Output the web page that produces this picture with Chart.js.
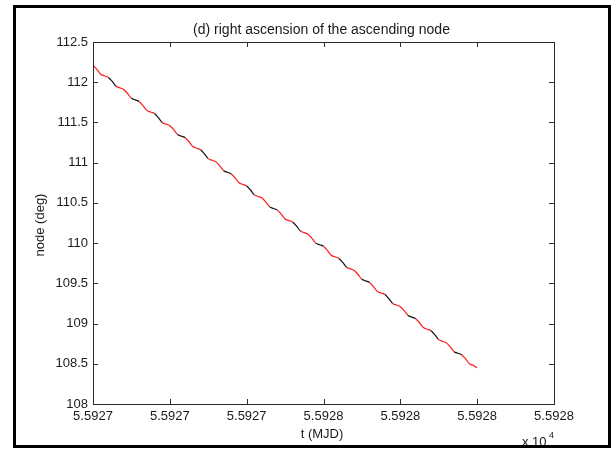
<!DOCTYPE html>
<html>
<head>
<meta charset="utf-8">
<script src="https://cdn.jsdelivr.net/npm/chart.js@4.4.0/dist/chart.umd.min.js"></script>
<style>
  html, body { margin: 0; padding: 0; background: #ffffff; }
  #wrap { position: relative; width: 616px; height: 450px; }
  canvas { display: block; }
</style>
</head>
<body>
<div id="wrap"><canvas id="c" width="616" height="450"></canvas></div>
<script>
// ---- data ----
const baseMJD = 55927;
const tDays = [
  0.00, 0.01, 0.02, 0.03, 0.04, 0.05, 0.06, 0.07, 0.08, 0.09,
  0.10, 0.11, 0.12, 0.13, 0.14, 0.15, 0.16, 0.17, 0.18, 0.19,
  0.20, 0.21, 0.22, 0.23, 0.24, 0.25, 0.26, 0.27, 0.28, 0.29,
  0.30, 0.31, 0.32, 0.33, 0.34, 0.35, 0.36, 0.37, 0.38, 0.39,
  0.40, 0.41, 0.42, 0.43, 0.44, 0.45, 0.46, 0.47, 0.48, 0.49,
  0.50, 0.51, 0.52, 0.53, 0.54, 0.55, 0.56, 0.57, 0.58, 0.59,
  0.60, 0.61, 0.62, 0.63, 0.64, 0.65, 0.66, 0.67, 0.68, 0.69,
  0.70, 0.71, 0.72, 0.73, 0.74, 0.75, 0.76, 0.77, 0.78, 0.79,
  0.80, 0.81, 0.82, 0.83, 0.84, 0.85, 0.86, 0.87, 0.88, 0.89,
  0.90, 0.91, 0.92, 0.93, 0.94, 0.95, 0.96, 0.97, 0.98, 0.99,
  1.00
];
const nodeDeg = [
  112.21, 112.16, 112.10, 112.08,
  112.06, 112.01, 111.95, 111.93,
  111.91, 111.86, 111.80, 111.78,
  111.76, 111.71, 111.65, 111.63,
  111.61, 111.56, 111.50, 111.48,
  111.46, 111.41, 111.35, 111.33,
  111.31, 111.26, 111.20, 111.18,
  111.16, 111.11, 111.05, 111.03,
  111.01, 110.96, 110.90, 110.88,
  110.86, 110.81, 110.75, 110.73,
  110.71, 110.66, 110.60, 110.58,
  110.56, 110.51, 110.45, 110.43,
  110.41, 110.36, 110.30, 110.28,
  110.26, 110.21, 110.15, 110.13,
  110.11, 110.06, 110.00, 109.98,
  109.96, 109.91, 109.85, 109.83,
  109.81, 109.76, 109.70, 109.68,
  109.66, 109.61, 109.55, 109.53,
  109.51, 109.46, 109.40, 109.38,
  109.36, 109.31, 109.25, 109.23,
  109.21, 109.16, 109.10, 109.08,
  109.06, 109.01, 108.95, 108.93,
  108.91, 108.86, 108.80, 108.78,
  108.76, 108.71, 108.65, 108.63,
  108.61, 108.56, 108.50, 108.48,
  108.45
];
const xTickValues = [55927.0, 55927.2, 55927.4, 55927.6, 55927.8, 55928.0, 55928.2];
const xTickLabels = ['5.5927', '5.5927', '5.5927', '5.5928', '5.5928', '5.5928', '5.5928'];
const yTickValues = [108, 108.5, 109, 109.5, 110, 110.5, 111, 111.5, 112, 112.5];
const yTickLabels = ['108', '108.5', '109', '109.5', '110', '110.5', '111', '111.5', '112', '112.5'];
const titleText = '(d) right ascension of the ascending node';
const xAxisTitle = 't (MJD)';
const yAxisTitle = 'node (deg)';

const points = tDays.map((t, i) => ({ x: baseMJD + t, y: nodeDeg[i] }));

const FONT = "'Liberation Sans', Arial, Helvetica, sans-serif";
const TEXT = '#1a1a1a';
const AXIS = '#2a2a2a';
const RED = '#ff1a1a';
const BLACK = '#111111';

const decorPlugin = {
  id: 'decor',
  afterDraw(chart) {
    const { ctx, chartArea } = chart;
    const { left, right, top, bottom } = chartArea;
    const xs = chart.scales.x, ys = chart.scales.y;
    ctx.save();
    // plot box
    ctx.strokeStyle = AXIS;
    ctx.lineWidth = 1;
    ctx.strokeRect(Math.round(left) + 0.5, Math.round(top) + 0.5,
                   Math.round(right - left), Math.round(bottom - top));
    // inner ticks (MATLAB style, mirrored)
    const tl = 5;
    ctx.beginPath();
    xTickValues.forEach(v => {
      const px = Math.round(xs.getPixelForValue(v)) + 0.5;
      ctx.moveTo(px, bottom); ctx.lineTo(px, bottom - tl);
      ctx.moveTo(px, top); ctx.lineTo(px, top + tl);
    });
    yTickValues.forEach(v => {
      const py = Math.round(ys.getPixelForValue(v)) + 0.5;
      ctx.moveTo(left, py); ctx.lineTo(left + tl, py);
      ctx.moveTo(right, py); ctx.lineTo(right - tl, py);
    });
    ctx.stroke();

    ctx.fillStyle = TEXT;
    ctx.textAlign = 'center';
    ctx.textBaseline = 'alphabetic';
    // title
    ctx.font = '14px ' + FONT;
    ctx.fillText(titleText, 321.5, 34);
    // x axis title
    ctx.font = '13px ' + FONT;
    ctx.fillText(xAxisTitle, 322, 438);
    // y axis title
    ctx.save();
    ctx.translate(44, 225);
    ctx.rotate(-Math.PI / 2);
    ctx.fillText(yAxisTitle, 0, 0);
    ctx.restore();
    // exponent
    ctx.textAlign = 'left';
    ctx.font = '13px ' + FONT;
    ctx.fillText('x 10', 522, 446);
    ctx.font = '9px ' + FONT;
    ctx.fillText('4', 549, 438);

    // outer figure frame
    ctx.strokeStyle = '#000000';
    ctx.lineWidth = 3;
    ctx.strokeRect(14.5, 6.5, 595, 440);
    ctx.restore();
  }
};

new Chart(document.getElementById('c'), {
  type: 'line',
  data: {
    datasets: [
      {
        label: 'node',
        data: points,
        borderColor: RED,
        borderWidth: 1.2,
        pointRadius: 0,
        cubicInterpolationMode: 'monotone',
        fill: false,
        segment: {
          borderColor: c => (c.p0DataIndex % 6 >= 4 ? BLACK : RED)
        }
      }
    ]
  },
  options: {
    responsive: false,
    animation: false,
    devicePixelRatio: 1,
    layout: { padding: { left: 0, top: 42, right: 62, bottom: 0 } },
    plugins: {
      legend: { display: false },
      title: { display: false },
      tooltip: { enabled: false }
    },
    scales: {
      x: {
        type: 'linear',
        min: 55927.0,
        max: 55928.2,
        afterFit(scale) { scale.height = 46; },
        afterBuildTicks(scale) { scale.ticks = xTickValues.map(v => ({ value: v })); },
        grid: { display: false, drawTicks: false },
        border: { display: false },
        ticks: {
          autoSkip: false,
          maxRotation: 0,
          padding: 5,
          color: TEXT,
          font: { family: FONT, size: 13 },
          callback(value, index) { return xTickLabels[index]; }
        }
      },
      y: {
        type: 'linear',
        min: 108,
        max: 112.5,
        afterFit(scale) { scale.width = 93; },
        afterBuildTicks(scale) { scale.ticks = yTickValues.map(v => ({ value: v })); },
        grid: { display: false, drawTicks: false },
        border: { display: false },
        ticks: {
          autoSkip: false,
          padding: 5,
          color: TEXT,
          font: { family: FONT, size: 13 },
          callback(value, index) { return yTickLabels[index]; }
        }
      }
    }
  },
  plugins: [decorPlugin]
});
</script>
</body>
</html>
